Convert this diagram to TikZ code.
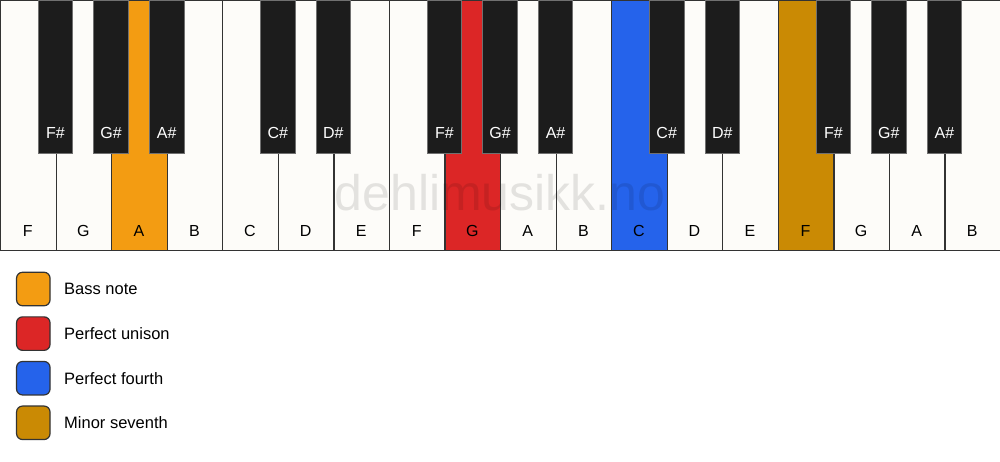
\documentclass[tikz,border=0pt]{standalone}
\usepackage{fontspec}
\setmainfont{Liberation Sans}
\definecolor{keyline}{HTML}{333333}
\definecolor{ivory}{HTML}{FDFCF9}
\definecolor{ebony}{HTML}{1C1C1C}
\definecolor{cbass}{HTML}{F39C12}
\definecolor{cunison}{HTML}{DC2626}
\definecolor{cfourth}{HTML}{2563EB}
\definecolor{cseventh}{HTML}{CA8A04}
\tikzset{
  whitekey/.style={draw=keyline, line width=1.2pt, fill=ivory, minimum width=55.556pt, minimum height=250pt, inner sep=0pt, anchor=north west},
  blackkey/.style={draw=keyline!70, line width=0.8pt, fill=ebony, minimum width=34.5pt, minimum height=153pt, inner sep=0pt, anchor=north},
  wlabel/.style={font=\fontsize{16}{16}\selectfont, text=black, anchor=base},
  blabel/.style={font=\fontsize{16}{16}\selectfont, text=white, anchor=base},
  legbox/.style={draw=keyline, line width=1.2pt, rounded corners=6pt, minimum width=33.5pt, minimum height=33.5pt, inner sep=0pt},
  legtext/.style={font=\fontsize{16.5}{16.5}\selectfont, anchor=west, inner sep=0pt},
}
\begin{document}
\begin{tikzpicture}[x=1pt,y=-1pt]
\useasboundingbox (0,0) rectangle (1000,461);
\fill[white] (0,0) rectangle (1000,461);
% white keys
\foreach \n/\fc [count=\i from 0] in {F/ivory,G/ivory,A/cbass,B/ivory,C/ivory,D/ivory,E/ivory,F/ivory,G/cunison,A/ivory,B/ivory,C/cfourth,D/ivory,E/ivory,F/cseventh,G/ivory,A/ivory,B/ivory}{
  \node[whitekey, fill=\fc] (w\i) at ({\i*55.556},0) {};
  \node[wlabel] (wl\i) at ({(\i+0.5)*55.556},236) {\n};
}
% watermark
\node[font=\fontsize{50}{50}\selectfont, text=black, opacity=0.1] (wm) at (500,193) {dehlimusikk.no};
% black keys
\foreach \b/\n in {1/F\#,2/G\#,3/A\#,5/C\#,6/D\#,8/F\#,9/G\#,10/A\#,12/C\#,13/D\#,15/F\#,16/G\#,17/A\#}{
  \node[blackkey] (b\b) at ({\b*55.556},0) {};
  \node[blabel] (bl\b) at ({\b*55.556},138.5) {\n};
}
% legend
\foreach \c/\t [count=\k from 0] in {cbass/Bass note,cunison/Perfect unison,cfourth/Perfect fourth,cseventh/Minor seventh}{
  \node[legbox, fill=\c] (lb\k) at (33.3,{289+\k*44.6}) {};
  \node[legtext] (lt\k) at (64,{289+\k*44.6}) {\t};
}
\end{tikzpicture}
\end{document}
